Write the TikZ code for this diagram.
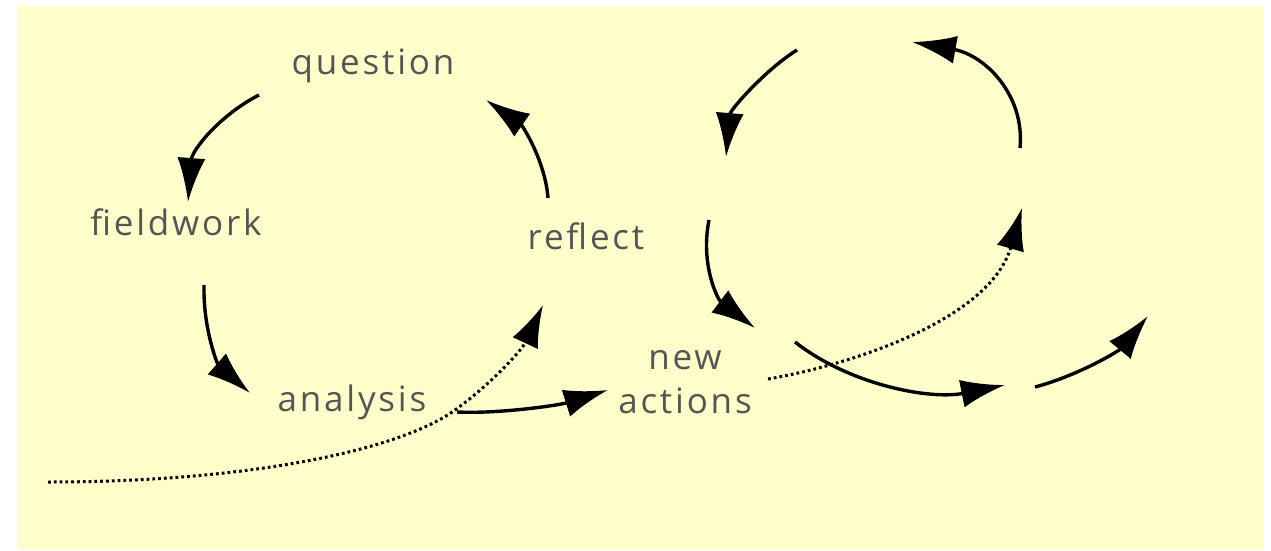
\documentclass[tikz,border=0pt]{standalone}
\usepackage{fontspec}
\setmainfont{Open Sans}[LetterSpace=8]
\usetikzlibrary{arrows.meta}
\definecolor{bgyellow}{RGB}{255,255,204}
\definecolor{labelgray}{RGB}{85,85,85}
\tikzset{
  lbl/.style={text=labelgray, font=\fontsize{35}{44}\selectfont, inner sep=0pt, align=center},
  flow/.style={line width=3.4pt, -{Latex[length=44pt,width=28pt]}},
  dotflow/.style={line width=3pt, dash pattern=on 2.8pt off 3pt, -{Latex[length=42pt,width=28pt]}},
}
\begin{document}
\begin{tikzpicture}[x=1pt,y=-1pt]
\useasboundingbox (0,0) rectangle (1271,550);
\fill[white] (0,0) rectangle (1271,550);
\fill[bgyellow] (17,6) rectangle (1264,550);

% labels
\node[lbl] (question) at (373,66) {question};
\node[lbl] (fieldwork) at (176,222) {fieldwork};
\node[lbl] (reflect) at (586,236) {reflect};
\node[lbl] (analysis) at (352,402) {analysis};
\node[lbl] (newactions) at (685,382) {new\\actions};

% arrow end points
\coordinate (q1) at (259,95);
\coordinate (f1) at (188,202);
\coordinate (f2) at (204,285);
\coordinate (a1) at (250,393);
\coordinate (r1) at (548,198);
\coordinate (q2) at (486,100);
\coordinate (d0) at (48,482);
\coordinate (dm) at (455,410);
\coordinate (r2) at (543,305);
\coordinate (a2) at (457,412);
\coordinate (n1) at (608,390);

\coordinate (p1) at (797,50);
\coordinate (p2) at (726,157);
\coordinate (p3) at (1020,148);
\coordinate (p4) at (912,42);
\coordinate (p5) at (709,220);
\coordinate (p6) at (755,328);
\coordinate (p7) at (795,342);
\coordinate (p8) at (1005,385);
\coordinate (e0) at (768,379);
\coordinate (e1) at (1022,208);
\coordinate (p9) at (1035,387);
\coordinate (p10) at (1148,316);

% left cycle
\draw[flow] (q1) .. controls (220,115) and (192,150) .. (f1);
\draw[flow] (f2) .. controls (203,330) and (218,365) .. (a1);
\draw[flow] (r1) .. controls (545,160) and (522,125) .. (q2);
\draw[dotflow] (d0) .. controls (250,482) and (400,450) .. (dm) .. controls (490,385) and (522,350) .. (r2);
\draw[flow] (a2) .. controls (500,414) and (560,405) .. (n1);

% right cycle
\draw[flow] (p1) .. controls (765,70) and (730,110) .. (p2);
\draw[flow] (p3) .. controls (1025,95) and (985,55) .. (p4);
\draw[flow] (p5) .. controls (700,265) and (718,300) .. (p6);
\draw[flow] (p7) .. controls (850,385) and (930,400) .. (p8);
\draw[dotflow] (e0) .. controls (850,365) and (990,320) .. (e1);
\draw[flow] (p9) .. controls (1080,375) and (1120,350) .. (p10);
\end{tikzpicture}
\end{document}
